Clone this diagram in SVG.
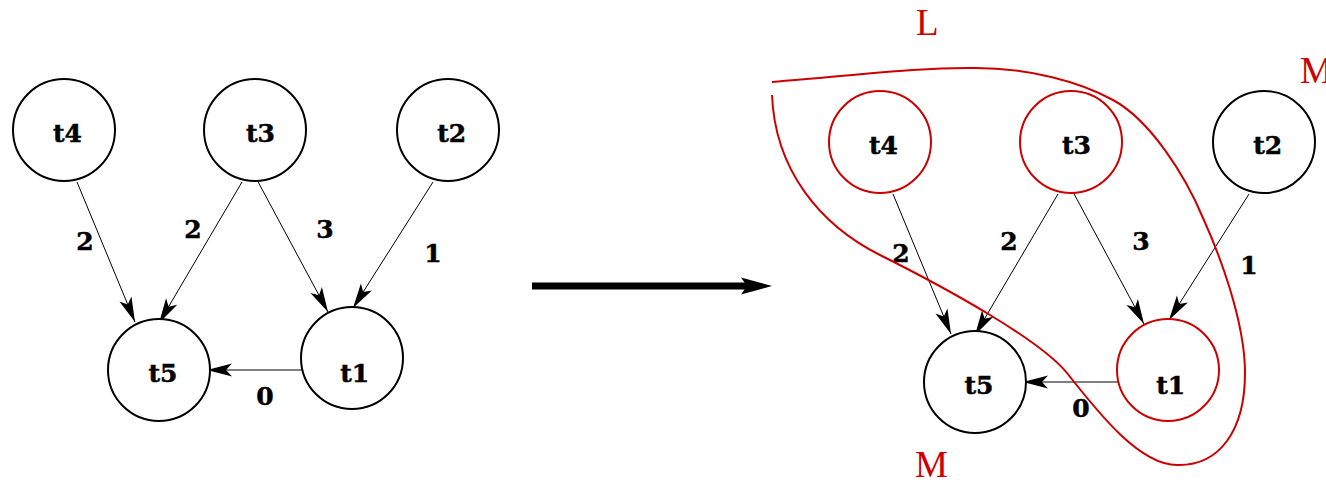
<svg xmlns="http://www.w3.org/2000/svg" width="1326" height="482" viewBox="0 0 1326 482">
<style>
.node{fill:#fff;stroke:#000;stroke-width:2}
.red{stroke:#cc0000}
.lbl{font-family:"DejaVu Serif",serif;font-weight:bold;font-size:25px;fill:#000;stroke:#000;stroke-width:0.5;text-anchor:middle}
.edge{stroke:#000;stroke-width:1;fill:none;marker-end:url(#ah)}
.rtxt{font-family:"Liberation Serif",serif;font-size:37px;fill:#cc0000}
</style>
<defs>
<marker id="ah" viewBox="-26 -8 28 16" refX="0" refY="0" markerWidth="28" markerHeight="16" markerUnits="userSpaceOnUse" orient="auto">
<path d="M0,0 L-25,-6.5 L-19,0 L-25,6.5 Z" fill="#000"/>
</marker>
</defs>
<rect width="1326" height="482" fill="#fff"/>

<g id="connectors">
<line class="edge" x1="77" y1="182" x2="135" y2="322"/>
<line class="edge" x1="242" y1="182" x2="159" y2="323"/>
<line class="edge" x1="256" y1="178" x2="328" y2="312"/>
<line class="edge" x1="433" y1="182" x2="353" y2="308"/>
<line class="edge" x1="302" y1="370" x2="207" y2="370"/>
<line class="edge" x1="893" y1="194" x2="951" y2="334"/>
<line class="edge" x1="1058" y1="194" x2="975" y2="335"/>
<line class="edge" x1="1072" y1="190" x2="1144" y2="324"/>
<line class="edge" x1="1249" y1="194" x2="1169" y2="320"/>
<line class="edge" x1="1118" y1="382" x2="1023" y2="382"/>
<line x1="532" y1="286" x2="748" y2="286" stroke="#000" stroke-width="7"/>
<path d="M772,286 L741,277.5 L747,286 L741,294.5 Z" fill="#000"/>
</g>

<g id="edge-labels">
<text class="lbl" x="85" y="250">2</text>
<text class="lbl" x="193" y="238">2</text>
<text class="lbl" x="325" y="238">3</text>
<text class="lbl" x="433" y="262">1</text>
<text class="lbl" x="265" y="405">0</text>
<text class="lbl" x="901" y="262">2</text>
<text class="lbl" x="1009" y="250">2</text>
<text class="lbl" x="1141" y="250">3</text>
<text class="lbl" x="1249" y="274">1</text>
<text class="lbl" x="1081" y="417">0</text>
</g>

<g id="L-t4"><circle class="node" cx="64" cy="130" r="51"/><text class="lbl" x="67.5" y="142">t4</text></g>
<g id="L-t3"><circle class="node" cx="255" cy="130" r="51"/><text class="lbl" x="260.5" y="142">t3</text></g>
<g id="L-t2"><circle class="node" cx="448" cy="130" r="51"/><text class="lbl" x="451.7" y="142">t2</text></g>
<g id="L-t5"><circle class="node" cx="159" cy="370" r="51"/><text class="lbl" x="163" y="382">t5</text></g>
<g id="L-t1"><circle class="node" cx="352" cy="358" r="51"/><text class="lbl" x="354.7" y="382">t1</text></g>

<g id="R-t4"><circle class="node red" cx="880" cy="142" r="51"/><text class="lbl" x="883.5" y="154">t4</text></g>
<g id="R-t3"><circle class="node red" cx="1071" cy="142" r="51"/><text class="lbl" x="1076.5" y="154">t3</text></g>
<g id="R-t2"><circle class="node" cx="1264" cy="142" r="51"/><text class="lbl" x="1267.7" y="154">t2</text></g>
<g id="R-t5"><circle class="node" cx="975" cy="382" r="51"/><text class="lbl" x="979" y="394">t5</text></g>
<g id="R-t1"><circle class="node red" cx="1168" cy="370" r="51"/><text class="lbl" x="1170.7" y="394">t1</text></g>

<g id="region">
<path d="M772,82 C850,76 920,67 975,68 C1030,68 1080,82 1113,100 C1150,120 1185,175 1203,218 C1218,251 1245,320 1245,373 C1245,430 1220,466 1177,465 C1140,465 1100,415 1067,373 C1040,340 950,290 880,255 C820,225 775,170 772,95" fill="none" stroke="#cc0000" stroke-width="2"/>
<text class="rtxt" x="916" y="35">L</text>
<text class="rtxt" x="1300" y="83">M</text>
<text class="rtxt" x="915" y="477">M</text>
</g>
</svg>
